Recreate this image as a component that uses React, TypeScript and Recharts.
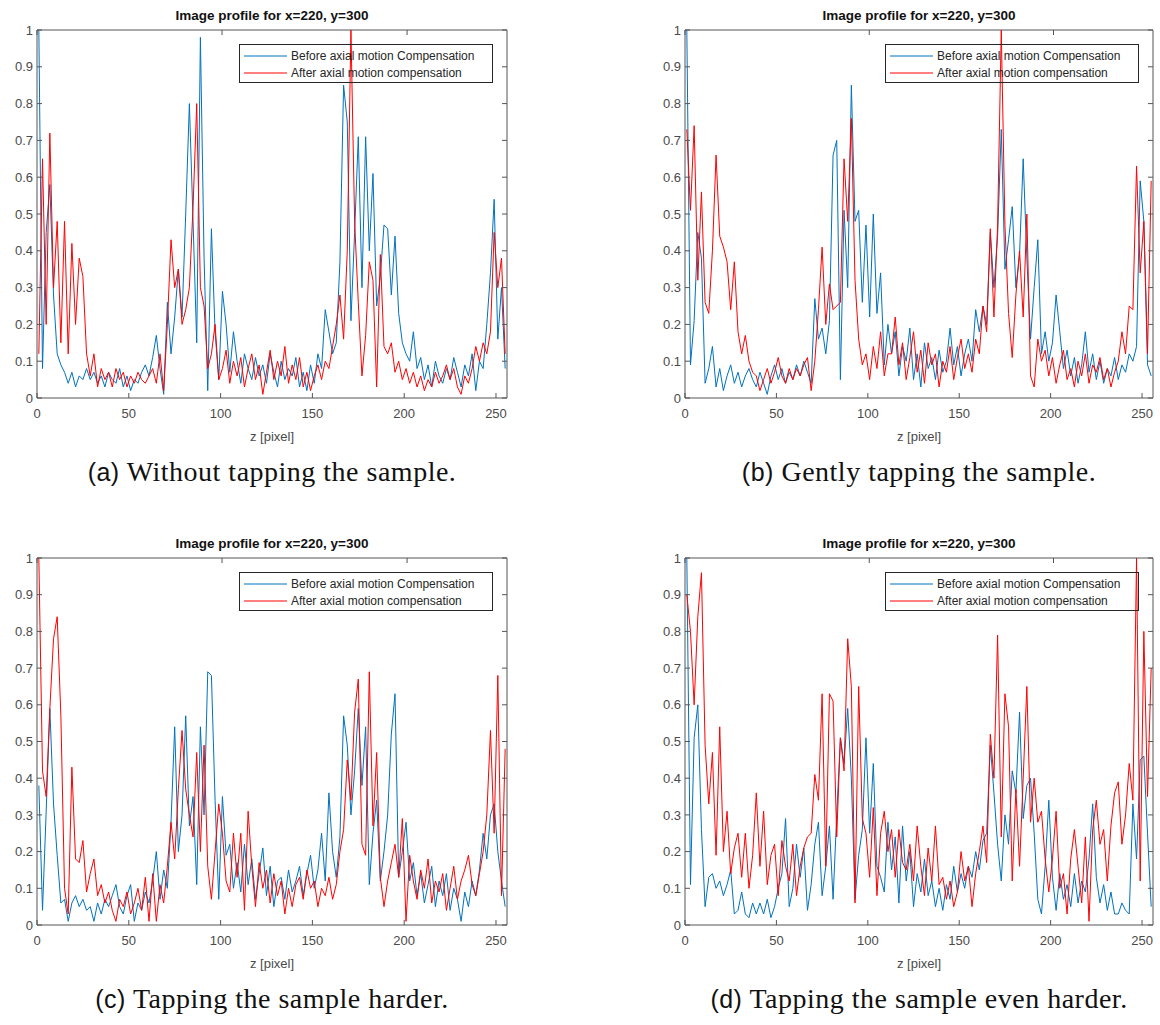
import React from "react";
import { LineChart, Line, XAxis, YAxis, Legend, Label } from "recharts";

// z positions sampled every second pixel of the profile
const zPixels = Array.from({ length: 128 }, (_, i) => 2 * i + 1);
const zTicks = [0, 50, 100, 150, 200, 250];
const yTicks = [0, 0.1, 0.2, 0.3, 0.4, 0.5, 0.6, 0.7, 0.8, 0.9, 1];

const seriesNames = ["Before axial motion Compensation", "After axial motion compensation"];
const plotTitle = "Image profile for x=220, y=300";
const xLabel = "z [pixel]";

// (a) without tapping
const aBefore = [
  1.0, 0.08, 0.45, 0.58, 0.28, 0.12, 0.09, 0.07, 0.04, 0.07,
  0.03, 0.06, 0.05, 0.08, 0.05, 0.07, 0.04, 0.06, 0.03, 0.07,
  0.05, 0.04, 0.08, 0.03, 0.06, 0.02, 0.05, 0.04, 0.07, 0.09,
  0.06, 0.11, 0.17, 0.08, 0.01, 0.26, 0.12, 0.22, 0.35, 0.22,
  0.5, 0.8, 0.48, 0.15, 0.98, 0.38, 0.02, 0.46, 0.18, 0.05,
  0.29, 0.2, 0.07, 0.18, 0.1, 0.04, 0.12, 0.08, 0.05, 0.11,
  0.06, 0.09, 0.04, 0.12, 0.07, 0.03, 0.1, 0.05, 0.08, 0.06,
  0.11, 0.03, 0.07, 0.02, 0.09, 0.04, 0.12, 0.08, 0.24, 0.18,
  0.12, 0.15, 0.37, 0.85, 0.75, 0.21, 0.45, 0.71, 0.3, 0.71,
  0.4, 0.61, 0.25, 0.33, 0.47, 0.46, 0.28, 0.44, 0.23, 0.15,
  0.12, 0.1, 0.18, 0.08, 0.11, 0.05, 0.09, 0.03, 0.1, 0.06,
  0.04, 0.08, 0.05, 0.11, 0.07, 0.03, 0.09, 0.06, 0.12, 0.02,
  0.1, 0.08, 0.2, 0.34, 0.54, 0.16, 0.3, 0.08,
];
const aAfter = [
  0.12, 0.65, 0.2, 0.72, 0.3, 0.48, 0.15, 0.48, 0.12, 0.42,
  0.2, 0.38, 0.33, 0.12, 0.06, 0.12, 0.03, 0.08, 0.05, 0.07,
  0.03, 0.08, 0.05, 0.07, 0.03, 0.06, 0.04, 0.07, 0.05, 0.04,
  0.06, 0.08, 0.04, 0.12, 0.02, 0.2, 0.43, 0.3, 0.35, 0.2,
  0.24, 0.3, 0.52, 0.8, 0.3, 0.25, 0.08, 0.12, 0.2, 0.05,
  0.08, 0.13, 0.04, 0.1, 0.06, 0.11, 0.03, 0.08, 0.12, 0.05,
  0.09, 0.01, 0.07, 0.13, 0.05, 0.1, 0.06, 0.14, 0.04, 0.09,
  0.05, 0.11, 0.03, 0.07, 0.02, 0.06, 0.09, 0.05, 0.1, 0.08,
  0.14, 0.2, 0.28, 0.16, 0.4, 1.0, 0.48, 0.26, 0.06, 0.17,
  0.37, 0.32, 0.03, 0.39, 0.14, 0.12, 0.15, 0.07, 0.1, 0.05,
  0.08, 0.04, 0.07, 0.03, 0.06, 0.02, 0.05, 0.03, 0.07, 0.04,
  0.06, 0.09, 0.05, 0.08, 0.03, 0.01, 0.06, 0.04, 0.08, 0.14,
  0.1, 0.15, 0.12, 0.18, 0.45, 0.3, 0.38, 0.12,
];

// (b) gently tapping
const bBefore = [
  1.0, 0.09, 0.21, 0.45, 0.38, 0.04, 0.08, 0.14, 0.03, 0.08,
  0.02, 0.06, 0.09, 0.04, 0.07, 0.03, 0.06, 0.08, 0.05, 0.03,
  0.07, 0.04, 0.01, 0.06, 0.09, 0.05, 0.08, 0.04, 0.07, 0.05,
  0.09, 0.06, 0.1, 0.07, 0.04, 0.27, 0.16, 0.19, 0.12, 0.21,
  0.66, 0.7, 0.05, 0.51, 0.3, 0.85, 0.48, 0.51, 0.26, 0.47,
  0.22, 0.5, 0.23, 0.34, 0.09, 0.2, 0.12, 0.18, 0.06, 0.14,
  0.1, 0.19, 0.05, 0.12, 0.03, 0.15, 0.08, 0.11, 0.05, 0.13,
  0.07, 0.1, 0.19, 0.09, 0.14, 0.06, 0.12, 0.16, 0.1, 0.24,
  0.18, 0.25, 0.2, 0.45, 0.3, 0.44, 0.73, 0.35, 0.43, 0.52,
  0.3, 0.39, 0.65, 0.38, 0.16, 0.3, 0.43, 0.12, 0.18, 0.1,
  0.15, 0.28, 0.18, 0.08, 0.13, 0.06, 0.11, 0.04, 0.09, 0.18,
  0.07, 0.12, 0.05, 0.1, 0.04, 0.08, 0.06, 0.11, 0.05, 0.09,
  0.07, 0.12, 0.1, 0.14, 0.59, 0.48, 0.09, 0.06,
];
const bAfter = [
  0.73, 0.51, 0.74, 0.32, 0.56, 0.26, 0.23, 0.4, 0.66, 0.44,
  0.41, 0.37, 0.24, 0.37, 0.18, 0.12, 0.17, 0.1, 0.07, 0.06,
  0.02, 0.05, 0.08, 0.04, 0.07, 0.11, 0.06, 0.04, 0.08, 0.05,
  0.08, 0.06, 0.09, 0.11, 0.02, 0.1, 0.24, 0.41, 0.2, 0.31,
  0.24, 0.25, 0.26, 0.65, 0.48, 0.76, 0.32, 0.16, 0.09, 0.12,
  0.05, 0.14, 0.08, 0.18, 0.06, 0.12, 0.12, 0.22, 0.09, 0.15,
  0.05, 0.11, 0.18, 0.07, 0.13, 0.04, 0.15, 0.09, 0.12, 0.03,
  0.1, 0.07, 0.14, 0.05, 0.11, 0.16, 0.08, 0.12, 0.07, 0.16,
  0.12, 0.25, 0.18, 0.46, 0.22, 0.47, 1.0, 0.47, 0.23, 0.11,
  0.28, 0.4, 0.22, 0.5, 0.06, 0.03, 0.16, 0.1, 0.13, 0.06,
  0.11, 0.04, 0.09, 0.13, 0.05, 0.08, 0.03, 0.1, 0.06, 0.12,
  0.04, 0.09, 0.07, 0.11, 0.05, 0.08, 0.03, 0.07, 0.1, 0.18,
  0.12, 0.25, 0.24, 0.63, 0.34, 0.48, 0.12, 0.59,
];

// (c) tapping harder
const cBefore = [
  0.38, 0.04, 0.31, 0.59, 0.33, 0.19, 0.06, 0.07, 0.01, 0.06,
  0.08, 0.05, 0.07, 0.04, 0.05, 0.01, 0.06, 0.03, 0.07, 0.05,
  0.08, 0.11, 0.05, 0.03, 0.08, 0.11, 0.01, 0.06, 0.04, 0.09,
  0.06, 0.12, 0.2, 0.07, 0.15, 0.1, 0.28, 0.54, 0.2, 0.3,
  0.57, 0.27, 0.35, 0.11, 0.54, 0.3, 0.69, 0.68, 0.34, 0.07,
  0.35, 0.19, 0.22, 0.1, 0.17, 0.09, 0.22, 0.11, 0.18, 0.07,
  0.14, 0.21, 0.08, 0.16, 0.05, 0.12, 0.13, 0.07, 0.15, 0.09,
  0.12, 0.16, 0.08, 0.14, 0.19, 0.1, 0.15, 0.25, 0.12, 0.36,
  0.2, 0.13, 0.24, 0.57, 0.49, 0.3, 0.42, 0.59, 0.38, 0.54,
  0.11, 0.25, 0.34, 0.12, 0.2, 0.3, 0.52, 0.63, 0.13, 0.2,
  0.28, 0.12, 0.17, 0.08, 0.14, 0.06, 0.11, 0.16, 0.05, 0.12,
  0.08, 0.14, 0.04, 0.1, 0.07, 0.01, 0.09, 0.05, 0.12, 0.08,
  0.15, 0.25, 0.18, 0.3, 0.33, 0.2, 0.12, 0.05,
];
const cAfter = [
  1.0, 0.42, 0.35, 0.59, 0.78, 0.84, 0.57, 0.1, 0.03, 0.43,
  0.18, 0.17, 0.23, 0.09, 0.14, 0.18, 0.08, 0.11, 0.06, 0.09,
  0.04, 0.01, 0.07, 0.05, 0.09, 0.03, 0.06, 0.1, 0.04, 0.13,
  0.01, 0.14, 0.01, 0.11, 0.06, 0.16, 0.28, 0.18, 0.37, 0.53,
  0.37, 0.3, 0.24, 0.47, 0.2, 0.49, 0.16, 0.07, 0.2, 0.33,
  0.25, 0.12, 0.09, 0.25, 0.13, 0.25, 0.04, 0.31, 0.16, 0.05,
  0.17, 0.1, 0.15, 0.06, 0.14, 0.08, 0.12, 0.03, 0.1, 0.05,
  0.11, 0.13, 0.07, 0.15, 0.1, 0.12, 0.05, 0.1, 0.08, 0.13,
  0.07, 0.11, 0.2, 0.26, 0.45, 0.34, 0.58, 0.67, 0.22, 0.19,
  0.69, 0.27, 0.47, 0.13, 0.05, 0.12, 0.17, 0.22, 0.13, 0.29,
  0.01, 0.19, 0.12, 0.07, 0.15, 0.1, 0.18, 0.06, 0.12, 0.09,
  0.14, 0.04, 0.1, 0.16, 0.07, 0.12, 0.15, 0.19, 0.11, 0.08,
  0.14, 0.2, 0.3, 0.53, 0.25, 0.68, 0.08, 0.48,
];

// (d) tapping even harder
const dBefore = [
  1.0, 0.11, 0.51, 0.6, 0.26, 0.05, 0.13, 0.14, 0.1, 0.12,
  0.08, 0.11, 0.15, 0.03, 0.04, 0.09, 0.03, 0.02, 0.06, 0.03,
  0.06, 0.03, 0.07, 0.02, 0.05, 0.1, 0.14, 0.29, 0.05, 0.1,
  0.22, 0.13, 0.21, 0.04, 0.11, 0.22, 0.28, 0.08, 0.16, 0.27,
  0.07, 0.3, 0.51, 0.44, 0.59, 0.4, 0.07, 0.19, 0.26, 0.51,
  0.25, 0.44, 0.16, 0.13, 0.09, 0.28, 0.15, 0.24, 0.06, 0.27,
  0.12, 0.2, 0.05, 0.14, 0.09, 0.18, 0.08, 0.12, 0.05, 0.1,
  0.04, 0.11, 0.07, 0.16, 0.09, 0.14, 0.1, 0.16, 0.13, 0.2,
  0.15, 0.23, 0.25, 0.49, 0.36, 0.22, 0.12, 0.3, 0.22, 0.42,
  0.36, 0.58, 0.29, 0.38, 0.4, 0.25, 0.07, 0.03, 0.16, 0.34,
  0.13, 0.04, 0.14, 0.07, 0.11, 0.05, 0.14, 0.06, 0.12, 0.09,
  0.18, 0.33, 0.13, 0.06, 0.11, 0.04, 0.09, 0.03, 0.03, 0.06,
  0.04, 0.03, 0.33, 0.18, 0.45, 0.46, 0.25, 0.05,
];
const dAfter = [
  0.9, 0.8, 0.6, 0.84, 0.96, 0.49, 0.33, 0.47, 0.19, 0.54,
  0.2, 0.31, 0.14, 0.21, 0.25, 0.13, 0.25, 0.1, 0.19, 0.36,
  0.16, 0.31, 0.11, 0.19, 0.22, 0.08, 0.23, 0.16, 0.12, 0.22,
  0.08, 0.16, 0.21, 0.24, 0.25, 0.41, 0.34, 0.63, 0.16, 0.63,
  0.61, 0.24, 0.51, 0.42, 0.78, 0.65, 0.06, 0.65, 0.29, 0.25,
  0.13, 0.32, 0.08, 0.25, 0.31, 0.2, 0.26, 0.13, 0.26, 0.17,
  0.15, 0.22, 0.12, 0.27, 0.16, 0.08, 0.21, 0.12, 0.27, 0.11,
  0.13, 0.07, 0.12, 0.05, 0.09, 0.2, 0.12, 0.16, 0.05, 0.14,
  0.2, 0.27, 0.17, 0.52, 0.4, 0.79, 0.24, 0.63, 0.54, 0.12,
  0.37, 0.16, 0.4, 0.65, 0.28, 0.4, 0.28, 0.31, 0.18, 0.09,
  0.18, 0.31, 0.1, 0.14, 0.03, 0.18, 0.26, 0.16, 0.06, 0.24,
  0.01, 0.26, 0.34, 0.22, 0.26, 0.12, 0.27, 0.36, 0.39, 0.22,
  0.3, 0.44, 0.34, 1.0, 0.12, 0.8, 0.35, 0.7,
];

const BLUE = "#0072bd";
const RED = "#ff0000";
const AXIS = "#555555";
const TICK_TEXT = "#4a4a4a";
const SANS = "'Liberation Sans', Arial, sans-serif";
const SERIF = "'Liberation Serif', 'Times New Roman', serif";

interface Panel {
  tag: string;
  caption: string;
  before: number[];
  after: number[];
  plotLeft: number;
  plotTop: number;
  plotW: number;
  plotH: number;
}

const panels: Panel[] = [
  { tag: "(a)", caption: "Without tapping the sample.", before: aBefore, after: aAfter, plotLeft: 37, plotTop: 30, plotW: 470, plotH: 368 },
  { tag: "(b)", caption: "Gently tapping the sample.", before: bBefore, after: bAfter, plotLeft: 685, plotTop: 30, plotW: 468, plotH: 368 },
  { tag: "(c)", caption: "Tapping the sample harder.", before: cBefore, after: cAfter, plotLeft: 37, plotTop: 558, plotW: 470, plotH: 367 },
  { tag: "(d)", caption: "Tapping the sample even harder.", before: dBefore, after: dAfter, plotLeft: 685, plotTop: 558, plotW: 468, plotH: 367 },
];

const Y_AXIS_W = 37;
const TOP_M = 30;
const RIGHT_M = 5;
const X_AXIS_H = 52;

function LegendBox() {
  const colorsList = [BLUE, RED];
  return (
    <div
      style={{
        width: 254,
        height: 39,
        boxSizing: "border-box",
        border: "1px solid #262626",
        fontFamily: SANS,
        fontSize: 12,
        color: "#262626",
        position: "relative",
      }}
    >
      {seriesNames.map((name, i) => (
        <div
          key={name}
          style={{ position: "absolute", left: 4, top: 3 + i * 17, height: 16, display: "flex", alignItems: "center" }}
        >
          <svg width={43} height={4} style={{ display: "block" }}>
            <line x1={0} y1={2} x2={43} y2={2} stroke={colorsList[i]} strokeWidth={1} />
          </svg>
          <span style={{ marginLeft: 4, whiteSpace: "nowrap" }}>{name}</span>
        </div>
      ))}
    </div>
  );
}

function ProfilePanel({ p }: { p: Panel }) {
  const rows = zPixels.map((z, i) => ({ z, before: p.before[i], after: p.after[i] }));
  const chartLeft = p.plotLeft - Y_AXIS_W;
  const chartTop = p.plotTop - TOP_M;
  const width = Y_AXIS_W + p.plotW + RIGHT_M;
  const height = TOP_M + p.plotH + X_AXIS_H;
  const tickStyle = { fontSize: 13, fill: TICK_TEXT, fontFamily: SANS };
  return (
    <>
      <div
        style={{
          position: "absolute",
          left: p.plotLeft,
          width: p.plotW,
          top: p.plotTop - 22,
          textAlign: "center",
          fontFamily: SANS,
          fontWeight: "bold",
          fontSize: 13.5,
          color: "#111",
        }}
      >
        {plotTitle}
      </div>
      <div style={{ position: "absolute", left: chartLeft, top: chartTop }}>
        <LineChart width={width} height={height} data={rows} margin={{ top: TOP_M, right: RIGHT_M, left: 0, bottom: 0 }}>
          <XAxis
            dataKey="z"
            type="number"
            domain={[0, 256]}
            ticks={zTicks}
            height={X_AXIS_H}
            tickSize={-5}
            tickMargin={16}
            stroke={AXIS}
            tick={tickStyle}
            allowDataOverflow
          >
            <Label value={xLabel} position="insideBottom" offset={9} fill={TICK_TEXT} fontSize={13} fontFamily={SANS} />
          </XAxis>
          <XAxis
            xAxisId="top"
            orientation="top"
            mirror
            type="number"
            domain={[0, 256]}
            ticks={zTicks}
            tickSize={5}
            tickFormatter={() => ""}
            stroke={AXIS}
            allowDataOverflow
          />
          <YAxis
            type="number"
            domain={[0, 1]}
            ticks={yTicks}
            width={Y_AXIS_W}
            tickSize={-5}
            tickMargin={9}
            stroke={AXIS}
            tick={tickStyle}
            allowDataOverflow
          />
          <YAxis
            yAxisId="right"
            orientation="right"
            mirror
            type="number"
            domain={[0, 1]}
            ticks={yTicks}
            tickSize={5}
            tickFormatter={() => ""}
            stroke={AXIS}
            allowDataOverflow
          />
          <Legend
            layout="vertical"
            align="center"
            verticalAlign="middle"
            content={() => <LegendBox />}
            wrapperStyle={{ left: Y_AXIS_W + p.plotW - 268, top: TOP_M + 14, width: 254, height: 39 }}
          />
          <Line
            dataKey="before"
            name={seriesNames[0]}
            stroke={BLUE}
            strokeWidth={1}
            dot={false}
            isAnimationActive={false}
          />
          <Line
            dataKey="after"
            name={seriesNames[1]}
            stroke={RED}
            strokeWidth={1}
            dot={false}
            isAnimationActive={false}
          />
        </LineChart>
      </div>
      <div
        style={{
          position: "absolute",
          left: p.plotLeft - 80,
          width: p.plotW + 160,
          top: p.plotTop + p.plotH + 58,
          textAlign: "center",
          fontSize: 28,
          color: "#111",
          whiteSpace: "nowrap",
          letterSpacing: 0.5,
        }}
      >
        <span style={{ fontFamily: SANS, fontSize: 25 }}>{p.tag}</span>
        <span style={{ fontFamily: SERIF }}> {p.caption}</span>
      </div>
    </>
  );
}

export default function App() {
  return (
    <div
      style={{
        position: "absolute",
        left: 0,
        top: 0,
        width: 1160,
        height: 1025,
        background: "#fff",
        overflow: "hidden",
      }}
    >
      {panels.map((p) => (
        <ProfilePanel key={p.tag} p={p} />
      ))}
    </div>
  );
}
